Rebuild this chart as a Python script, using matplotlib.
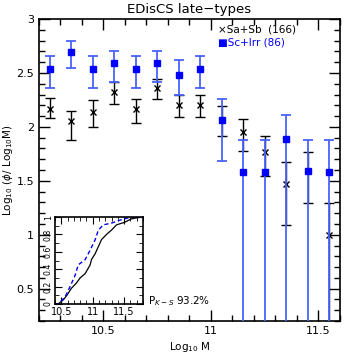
import matplotlib
matplotlib.use("Agg")
import matplotlib.pyplot as plt
from matplotlib.ticker import MultipleLocator

# binned mass function, late types
mass = [10.25, 10.35, 10.45, 10.55, 10.65, 10.75, 10.85, 10.95,
        11.05, 11.15, 11.25, 11.35, 11.45, 11.55]

sab = [2.17, 2.05, 2.14, 2.32, 2.17, 2.36, 2.20, 2.20,
       2.06, 1.95, 1.77, 1.47, 1.59, 1.00]
sab_hi = [2.27, 2.15, 2.25, 2.42, 2.26, 2.44, 2.30, 2.30,
          2.19, 2.07, 1.92, 1.67, 1.77, 1.29]
sab_lo = [2.08, 1.88, 2.00, 2.21, 2.04, 2.26, 2.09, 2.09,
          1.92, 1.78, 1.54, 1.09, 1.29, 0.0]

scirr = [2.54, 2.69, 2.54, 2.59, 2.54, 2.59, 2.48, 2.54,
         2.06, 1.58, 1.58, 1.89, 1.59, 1.58]
scirr_hi = [2.66, 2.80, 2.66, 2.70, 2.66, 2.70, 2.62, 2.66,
            2.26, 1.88, 1.88, 2.11, 1.88, 1.88]
scirr_lo = [2.36, 2.55, 2.36, 2.42, 2.36, 2.42, 2.30, 2.36,
            1.68, 0.0, 0.0, 0.0, 0.0, 0.0]

# cumulative distributions for the inset
cdf_sab_x = [10.40, 10.45, 10.53, 10.59, 10.66, 10.74, 10.80, 10.88, 10.96, 10.98,
             11.04, 11.09, 11.14, 11.22, 11.30, 11.38, 11.51, 11.62, 11.78]
cdf_sab_y = [0.0, 0.0, 0.046, 0.10, 0.18, 0.24, 0.30, 0.35, 0.45, 0.51,
             0.58, 0.66, 0.74, 0.80, 0.85, 0.91, 0.94, 0.98, 1.0]
cdf_sc_x = [10.40, 10.45, 10.56, 10.64, 10.72, 10.77, 10.88, 10.96, 11.04,
            11.09, 11.17, 11.30, 11.46, 11.62, 11.78]
cdf_sc_y = [0.0, 0.0, 0.08, 0.20, 0.33, 0.45, 0.51, 0.62, 0.74,
            0.85, 0.91, 0.93, 0.97, 1.0, 1.0]

blue = "#0000ff"
lightblue = "#4a63ff"

fig = plt.figure(figsize=(3.59, 3.59), dpi=100)
ax = fig.add_axes([0.1086, 0.1058, 0.8384, 0.8412])

err_sab = [[v - l for v, l in zip(sab, sab_lo)], [h - v for v, h in zip(sab, sab_hi)]]
err_sc = [[v - l for v, l in zip(scirr, scirr_lo)], [h - v for v, h in zip(scirr, scirr_hi)]]

ax.errorbar(mass, sab, yerr=err_sab, fmt="x", color="black", ms=4, mew=1.0,
            ecolor="black", elinewidth=1.0, capsize=3.5, capthick=1.0, zorder=2)
ax.errorbar(mass, scirr, yerr=err_sc, fmt="s", color=blue, ms=4.5,
            ecolor=lightblue, elinewidth=1.3, capsize=3.5, capthick=1.3, zorder=3)

ax.set_xlim(10.2, 11.6)
ax.set_ylim(0.2, 3.0)
ax.xaxis.set_minor_locator(MultipleLocator(0.1))
ax.yaxis.set_minor_locator(MultipleLocator(0.1))
ax.set_yticks([0.5, 1, 1.5, 2, 2.5, 3])
ax.set_yticklabels(["0.5", "1", "1.5", "2", "2.5", "3"])
ax.set_xticks([10.5, 11, 11.5])
ax.set_xticklabels(["10.5", "11", "11.5"])
ax.tick_params(which="both", direction="in", top=True, right=True, labelsize=8, width=1)
ax.tick_params(which="major", length=8)
ax.tick_params(which="minor", length=4)
for s in ax.spines.values():
    s.set_linewidth(1.2)

ax.set_xlabel(r"Log$_{10}$ M", fontsize=7.5, labelpad=3)
ax.set_ylabel(r"Log$_{10}$ ($\phi$/ Log$_{10}$M)", fontsize=7.5, labelpad=1)
ax.set_title("EDisCS late\u2212types", fontsize=9.5, pad=4)

ax.text(0.595, 0.964, "\u00d7Sa+Sb  (166)", transform=ax.transAxes, fontsize=7.5,
        color="black", ha="left", va="center")
ax.text(0.595, 0.922, "\u25a0Sc+Irr (86)", transform=ax.transAxes, fontsize=7.5,
        color=blue, ha="left", va="center")

ax.text(0.362, 0.065, r"P$_{K-S}$ 93.2%", transform=ax.transAxes, fontsize=7.5,
        ha="left", va="center")

# inset with the cumulative distributions
ins = fig.add_axes([0.1532, 0.1532, 0.245, 0.2423])
ins.plot(cdf_sab_x, cdf_sab_y, color="black", lw=0.9)
ins.plot(cdf_sc_x, cdf_sc_y, color=blue, lw=1.0, ls=(0, (3, 2)))
ins.set_xlim(10.4, 11.8)
ins.set_ylim(0, 1)
ins.set_xticks([10.5, 11, 11.5])
ins.set_xticklabels(["10.5", "11", "11.5"])
ins.set_yticks([0, 0.2, 0.4, 0.6, 0.8, 1])
ins.set_yticklabels(["0", "0.2", "0.4", "0.6", "0.8", "1"], rotation=90, va="center")
ins.xaxis.set_minor_locator(MultipleLocator(0.1))
ins.yaxis.set_minor_locator(MultipleLocator(0.1))
ins.tick_params(which="both", direction="in", top=True, right=True, pad=2)
ins.tick_params(axis="x", labelsize=7)
ins.tick_params(axis="y", labelsize=5.6, pad=1.5)
ins.tick_params(which="major", length=5)
ins.tick_params(which="minor", length=3)
for s in ins.spines.values():
    s.set_linewidth(1.2)

fig.savefig("out.png", dpi=100)
